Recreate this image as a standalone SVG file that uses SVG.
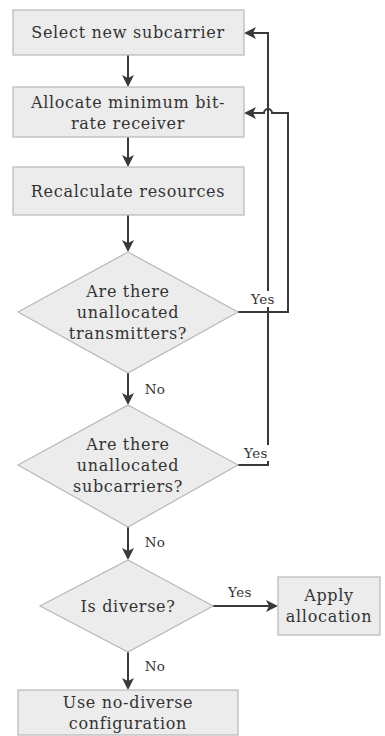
<svg xmlns="http://www.w3.org/2000/svg" width="385" height="736" viewBox="0 0 385 736">
<style>
.n{fill:#ececec;stroke:#b8b8b8;stroke-width:1.2}
.t{font-family:"DejaVu Serif","Liberation Serif",serif;font-size:16px;letter-spacing:0.7px;fill:#333;text-anchor:middle}
.l{font-family:"DejaVu Serif","Liberation Serif",serif;font-size:13.5px;letter-spacing:0.4px;fill:#333;text-anchor:middle}
.c{fill:none;stroke:#3a3a3a;stroke-width:2}
</style>
<defs>
<marker id="a" markerWidth="12" markerHeight="12" refX="10" refY="6" orient="auto" markerUnits="userSpaceOnUse">
<path d="M0,0 L12,6 L0,12 L3,6 Z" fill="#3a3a3a"/>
</marker>
</defs>
<rect width="385" height="736" fill="#fff"/>
<g id="connectors">
<line class="c" x1="128" y1="55" x2="128" y2="85" marker-end="url(#a)"/>
<line class="c" x1="128" y1="137" x2="128" y2="165" marker-end="url(#a)"/>
<line class="c" x1="128" y1="215" x2="128" y2="250" marker-end="url(#a)"/>
<line class="c" x1="128" y1="373" x2="128" y2="403" marker-end="url(#a)"/>
<line class="c" x1="128" y1="527" x2="128" y2="558" marker-end="url(#a)"/>
<line class="c" x1="128" y1="652" x2="128" y2="688" marker-end="url(#a)"/>
<line class="c" x1="213" y1="606" x2="276" y2="606" marker-end="url(#a)"/>
<path class="c" d="M238,312 H288 V113 H272 A4,4 0 0 0 264,113 H246" marker-end="url(#a)"/>
<path class="c" d="M238,465 H268 V33 H246" marker-end="url(#a)"/>
<rect x="246" y="291" width="34" height="16" fill="#fff"/>
<text class="l" x="263" y="304">Yes</text>
<rect x="239" y="445" width="34" height="16" fill="#fff"/>
<text class="l" x="256" y="458">Yes</text>
<text class="l" x="155" y="394">No</text>
<text class="l" x="155" y="547">No</text>
<text class="l" x="155" y="671">No</text>
<text class="l" x="240" y="597">Yes</text>
</g>
<g id="select">
<rect class="n" x="13" y="10" width="231" height="45"/>
<text class="t" x="128" y="38">Select new subcarrier</text>
</g>
<g id="allocate">
<rect class="n" x="13" y="87" width="231" height="50"/>
<text class="t" x="128" y="108">Allocate minimum bit-</text>
<text class="t" x="128" y="129">rate receiver</text>
</g>
<g id="recalc">
<rect class="n" x="13" y="167" width="231" height="48"/>
<text class="t" x="128" y="197">Recalculate resources</text>
</g>
<g id="d1">
<polygon class="n" points="128,252 238,312 128,373 18,312"/>
<text class="t" x="128" y="297">Are there</text>
<text class="t" x="128" y="318">unallocated</text>
<text class="t" x="128" y="339">transmitters?</text>
</g>
<g id="d2">
<polygon class="n" points="128,405 238,465 128,527 18,465"/>
<text class="t" x="128" y="450">Are there</text>
<text class="t" x="128" y="471">unallocated</text>
<text class="t" x="128" y="492">subcarriers?</text>
</g>
<g id="d3">
<polygon class="n" points="128,560 213,606 128,652 40,606"/>
<text class="t" x="128" y="612">Is diverse?</text>
</g>
<g id="apply">
<rect class="n" x="278" y="577" width="102" height="58"/>
<text class="t" x="329" y="601">Apply</text>
<text class="t" x="329" y="622">allocation</text>
</g>
<g id="nodiverse">
<rect class="n" x="18" y="690" width="220" height="45"/>
<text class="t" x="128" y="708">Use no-diverse</text>
<text class="t" x="128" y="729">configuration</text>
</g>
</svg>
